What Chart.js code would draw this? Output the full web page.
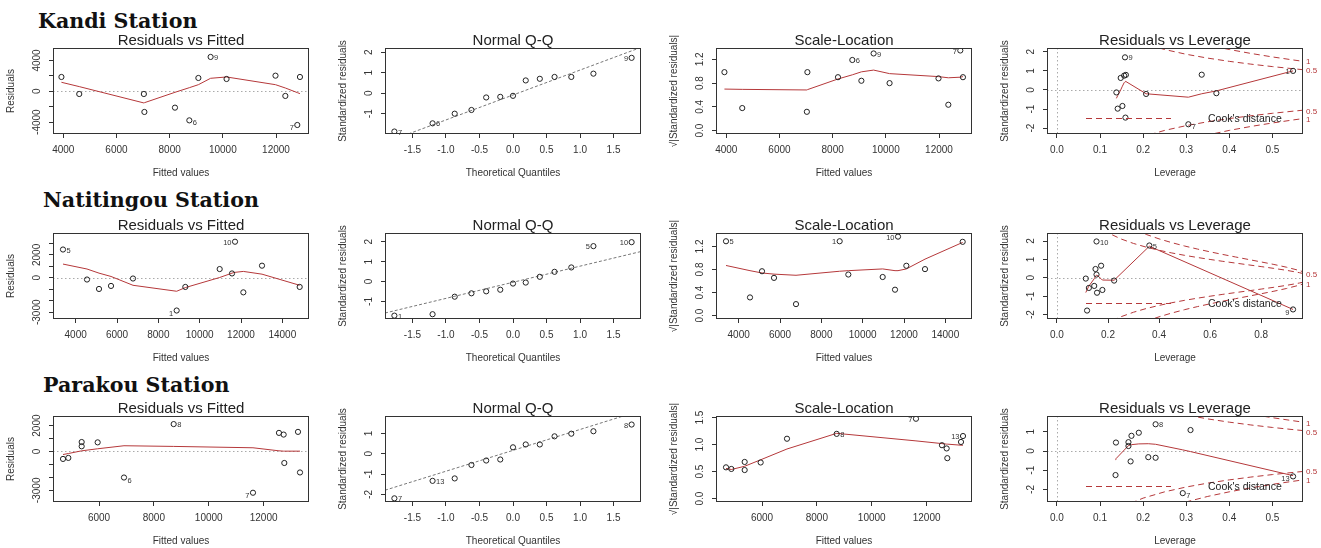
<!DOCTYPE html>
<html>
<head>
<meta charset="utf-8">
<script src="https://cdn.jsdelivr.net/npm/chart.js@4.4.1/dist/chart.umd.min.js"></script>
<style>
html, body { margin: 0; padding: 0; background: #fff; }
body { width: 1321px; height: 548px; position: relative; overflow: hidden; }
.st { position: absolute; font-family: "DejaVu Serif", serif; font-weight: bold; font-size: 20.6px; line-height: 20px; color: #111; white-space: nowrap; }
canvas { position: absolute; }
</style>
</head>
<body>
<div class="st" style="left:38px;top:11px">Kandi Station</div>
<div class="st" style="left:43px;top:190px">Natitingou Station</div>
<div class="st" style="left:43px;top:375px">Parakou Station</div>
<script>
// theoretical quantiles (n = 13), shared by the three Q-Q plots
const theoQ = [-1.77, -1.2, -0.87, -0.62, -0.4, -0.19, 0, 0.19, 0.4, 0.62, 0.87, 1.2, 1.77];

// Kandi
const kandiFitted = [3930, 4600, 7030, 7050, 8200, 8740, 9080, 9540, 10140, 11980, 12350, 12800, 12900];
const kandiResid = [1860, -350, -350, -2680, -2120, -3770, 1730, 4460, 1600, 2030, -600, -4370, 1860];
const kandiSmooth = [1170, 610, -1510, -1480, -130, 470, 860, 1690, 1860, 860, 430, -170, -300];
const kandiQQ = [-1.87, -1.47, -1.0, -0.82, -0.21, -0.18, -0.13, 0.62, 0.70, 0.79, 0.79, 0.95, 1.72];
const kandiQQline = [-2.41, 2.23];
const kandiSqrt = [0.985, 0.38, 0.317, 0.985, 0.90, 1.19, 0.84, 1.30, 0.80, 0.88, 0.436, 1.35, 0.90];
const kandiSmoothSL = [0.70, 0.695, 0.685, 0.69, 0.87, 0.94, 0.99, 1.02, 0.96, 0.91, 0.89, 0.90, 0.91];
const kandiLev = [0.138, 0.141, 0.148, 0.152, 0.156, 0.160, 0.158, 0.159, 0.207, 0.305, 0.336, 0.370, 0.548];
const kandiStd = [-0.13, -0.98, 0.63, -0.84, 0.75, 0.79, 1.71, -1.45, -0.21, -1.80, 0.80, -0.17, 1.00];
const kandiLevS = [0.138, 0.141, 0.148, 0.152, 0.156, 0.158, 0.159, 0.160, 0.207, 0.305, 0.336, 0.370, 0.548];
const kandiLevSm = [-0.44, -0.30, 0.00, 0.20, 0.38, 0.43, 0.45, 0.45, -0.20, -0.38, -0.20, -0.05, 1.00];

// Natitingou
const natiFitted = [3387, 4548, 5129, 5710, 6774, 8887, 9306, 10968, 11565, 11710, 12113, 13016, 14839];
const natiResid = [2470, -147, -970, -706, -59, -2850, -794, 765, 382, 3150, -1265, 1060, -794];
const natiSmooth = [1200, 770, 410, 120, -650, -1170, -850, 30, 410, 480, 560, 320, -650];
const natiQQ = [-1.71, -1.64, -0.76, -0.59, -0.49, -0.41, -0.10, -0.05, 0.24, 0.49, 0.71, 1.78, 1.98];
const natiQQline = [-1.58, 1.51];
const natiSqrt = [1.29, 0.316, 0.77, 0.655, 0.20, 1.29, 0.713, 0.67, 0.45, 1.37, 0.865, 0.807, 1.28];
const natiSmoothSL = [0.87, 0.78, 0.74, 0.72, 0.70, 0.77, 0.78, 0.81, 0.78, 0.78, 0.81, 0.98, 1.27];
const natiLev = [0.113, 0.118, 0.125, 0.146, 0.151, 0.155, 0.157, 0.173, 0.178, 0.155, 0.224, 0.362, 0.925];
const natiStd = [-0.04, -1.78, -0.55, -0.44, 0.48, 0.18, -0.81, 0.66, -0.66, 1.98, -0.15, 1.76, -1.72];
const natiLevS = [0.113, 0.118, 0.125, 0.146, 0.151, 0.155, 0.155, 0.157, 0.173, 0.178, 0.224, 0.362, 0.925];
const natiLevSm = [-0.80, -0.65, -0.45, -0.05, 0.08, 0.15, 0.15, 0.14, -0.05, -0.12, -0.13, 1.72, -1.72];

// Parakou
const parFitted = [4688, 4882, 5368, 5368, 5951, 6911, 8722, 11613, 12560, 12731, 12755, 13254, 13327];
const parResid = [-574, -496, 730, 400, 705, -2010, 2115, -3185, 1436, 1305, -888, 1514, -1619];
const parSmooth = [-235, -157, 52, 52, 209, 444, 392, 287, 52, 26, 26, 26, 26];
const parQQ = [-2.19, -1.33, -1.21, -0.55, -0.33, -0.28, 0.32, 0.46, 0.46, 0.86, 0.99, 1.11, 1.44];
const parQQline = [-1.79, 2.13];
const parSqrt = [0.58, 0.55, 0.68, 0.53, 0.67, 1.11, 1.20, 1.48, 0.99, 0.93, 0.75, 1.05, 1.16];
const parSmoothSL = [0.56, 0.54, 0.60, 0.60, 0.72, 0.92, 1.21, 1.07, 1.02, 1.01, 1.01, 0.99, 0.99];
const parLev = [0.137, 0.136, 0.166, 0.166, 0.173, 0.171, 0.190, 0.212, 0.229, 0.229, 0.292, 0.310, 0.548];
const parStd = [0.44, -1.25, 0.46, 0.26, 0.79, -0.54, 0.95, -0.32, 1.39, -0.35, -2.19, 1.09, -1.32];
const parLevS = [0.136, 0.137, 0.166, 0.166, 0.171, 0.173, 0.190, 0.212, 0.229, 0.229, 0.292, 0.310, 0.548];
const parLevSm = [-0.45, -0.40, 0.28, 0.28, 0.32, 0.33, 0.37, 0.38, 0.35, 0.35, 0.06, -0.03, -1.28];

// Cook's distance contours (0.5 and 1) read along leverage
const cookH = [0.15, 0.2, 0.25, 0.3, 0.35, 0.4, 0.45, 0.5, 0.55, 0.6, 0.65, 0.7, 0.75, 0.8, 0.85, 0.9, 0.95, 0.97];
const cookHalf = [2.915, 2.449, 2.121, 1.871, 1.669, 1.5, 1.354, 1.225, 1.108, 1.0, 0.898, 0.802, 0.707, 0.612, 0.514, 0.408, 0.281, 0.215];
const cookOne = [4.123, 3.464, 3.0, 2.646, 2.36, 2.121, 1.915, 1.732, 1.567, 1.414, 1.271, 1.134, 1.0, 0.866, 0.728, 0.577, 0.397, 0.305];

// tick values
const fitTicksKandi = [4000, 6000, 8000, 10000, 12000];
const fitTicksNati = [4000, 6000, 8000, 10000, 12000, 14000];
const fitTicksPar = [6000, 8000, 10000, 12000];
const qqTicks = [-1.5, -1, -0.5, 0, 0.5, 1, 1.5];
const levTicks = [0, 0.1, 0.2, 0.3, 0.4, 0.5];
const levTicksNati = [0, 0.2, 0.4, 0.6, 0.8];
const resTicksKandi = [-4000, -2000, 0, 2000, 4000];
const resLabelsKandi = [-4000, 0, 4000];
const resTicksNati = [-3000, -2000, -1000, 0, 1000, 2000, 3000];
const resTicksPar = [-3000, -2000, -1000, 0, 1000, 2000];
const resLabels = [-3000, 0, 2000];
const stdTicksUp = [-1, 0, 1, 2];
const stdTicksDown = [-2, -1, 0, 1];
const stdTicksAll = [-2, -1, 0, 1, 2];
const slTicks = [0, 0.4, 0.8, 1.2];
const slTicksPar = [0, 0.5, 1, 1.5];

const FONT = '"Liberation Sans", Arial, sans-serif';
const RED = '#b5383a';
const COLS = [53, 385, 716, 1047];
const ROWS = [48, 233, 416];
const qqX = [-1.91, 1.91];

const pts = (xs, ys) => xs.map((x, i) => ({x: x, y: ys[i]}));
const neg = a => a.map(v => -v);
const int = v => String(v);
const one = v => v.toFixed(1);

function cookLines() {
    return [
        {x: cookH, y: cookHalf, color: RED, dash: [6, 4]},
        {x: cookH, y: cookOne, color: RED, dash: [6, 4]},
        {x: cookH, y: neg(cookHalf), color: RED, dash: [6, 4]},
        {x: cookH, y: neg(cookOne), color: RED, dash: [6, 4]}
    ];
}

const panels = [
    // Kandi
    {col: 0, row: 0, title: 'Residuals vs Fitted', xTitle: 'Fitted values', yTitle: 'Residuals',
     x: {min: 3613, max: 13240, ticks: fitTicksKandi, fmt: int},
     y: {min: -5540, max: 5620, ticks: resTicksKandi, labels: resLabelsKandi, fmt: int},
     px: kandiFitted, py: kandiResid, lines: [{x: kandiFitted, y: kandiSmooth, color: RED}], hline: true,
     ids: [[7, '9', 'r'], [5, '6', 'rb'], [11, '7', 'lb']]},
    {col: 1, row: 0, title: 'Normal Q-Q', xTitle: 'Theoretical Quantiles', yTitle: 'Standardized residuals',
     x: {min: -1.91, max: 1.91, ticks: qqTicks, fmt: one},
     y: {min: -1.99, max: 2.2, ticks: stdTicksUp, labels: stdTicksUp, fmt: int},
     px: theoQ, py: kandiQQ, lines: [{x: qqX, y: kandiQQline, color: '#777', dash: [3, 2]}],
     ids: [[0, '7', 'r'], [1, '6', 'r'], [12, '9', 'l']]},
    {col: 2, row: 0, title: 'Scale-Location', xTitle: 'Fitted values', yTitle: '\u221A|Standardized residuals|',
     x: {min: 3613, max: 13240, ticks: fitTicksKandi, fmt: int},
     y: {min: -0.057, max: 1.392, ticks: slTicks, labels: slTicks, fmt: one},
     px: kandiFitted, py: kandiSqrt, lines: [{x: kandiFitted, y: kandiSmoothSL, color: RED}],
     ids: [[5, '6', 'r'], [7, '9', 'r'], [11, '7', 'l']]},
    {col: 3, row: 0, title: 'Residuals vs Leverage', xTitle: 'Leverage', yTitle: 'Standardized residuals',
     x: {min: -0.023, max: 0.571, ticks: levTicks, fmt: one},
     y: {min: -2.31, max: 2.2, ticks: stdTicksAll, labels: stdTicksAll, fmt: int},
     px: kandiLev, py: kandiStd, lines: [{x: kandiLevS, y: kandiLevSm, color: RED}].concat(cookLines()), hline: true, vline: true,
     ids: [[6, '9', 'r'], [9, '7', 'rb'], [12, '1', 'l']], legend: true,
     cook: [[1.50, '1'], [1.01, '0.5'], [-1.15, '0.5'], [-1.56, '1']]},
    // Natitingou
    {col: 0, row: 1, title: 'Residuals vs Fitted', xTitle: 'Fitted values', yTitle: 'Residuals',
     x: {min: 2903, max: 15290, ticks: fitTicksNati, fmt: int},
     y: {min: -3590, max: 3910, ticks: resTicksNati, labels: resLabels, fmt: int},
     px: natiFitted, py: natiResid, lines: [{x: natiFitted, y: natiSmooth, color: RED}], hline: true,
     ids: [[0, '5', 'r'], [5, '1', 'lb'], [9, '10', 'l']]},
    {col: 1, row: 1, title: 'Normal Q-Q', xTitle: 'Theoretical Quantiles', yTitle: 'Standardized residuals',
     x: {min: -1.91, max: 1.91, ticks: qqTicks, fmt: one},
     y: {min: -1.88, max: 2.44, ticks: stdTicksUp, labels: stdTicksUp, fmt: int},
     px: theoQ, py: natiQQ, lines: [{x: qqX, y: natiQQline, color: '#777', dash: [3, 2]}],
     ids: [[0, '1', 'r'], [11, '5', 'l'], [12, '10', 'l']]},
    {col: 2, row: 1, title: 'Scale-Location', xTitle: 'Fitted values', yTitle: '\u221A|Standardized residuals|',
     x: {min: 2903, max: 15290, ticks: fitTicksNati, fmt: int},
     y: {min: -0.058, max: 1.433, ticks: slTicks, labels: slTicks, fmt: one},
     px: natiFitted, py: natiSqrt, lines: [{x: natiFitted, y: natiSmoothSL, color: RED}],
     ids: [[0, '5', 'r'], [5, '1', 'l'], [9, '10', 'l']]},
    {col: 3, row: 1, title: 'Residuals vs Leverage', xTitle: 'Leverage', yTitle: 'Standardized residuals',
     x: {min: -0.039, max: 0.964, ticks: levTicksNati, fmt: one},
     y: {min: -2.24, max: 2.44, ticks: stdTicksAll, labels: stdTicksAll, fmt: int},
     px: natiLev, py: natiStd, lines: [{x: natiLevS, y: natiLevSm, color: RED}].concat(cookLines()), hline: true, vline: true,
     ids: [[9, '10', 'r'], [11, '5', 'r'], [12, '9', 'lb']], legend: true,
     cook: [[0.15, '0.5'], [-0.40, '1']]},
    // Parakou
    {col: 0, row: 2, title: 'Residuals vs Fitted', xTitle: 'Fitted values', yTitle: 'Residuals',
     x: {min: 4323, max: 13655, ticks: fitTicksPar, fmt: int},
     y: {min: -3900, max: 2740, ticks: resTicksPar, labels: resLabels, fmt: int},
     px: parFitted, py: parResid, lines: [{x: parFitted, y: parSmooth, color: RED}], hline: true,
     ids: [[6, '8', 'r'], [5, '6', 'rb'], [7, '7', 'lb']]},
    {col: 1, row: 2, title: 'Normal Q-Q', xTitle: 'Theoretical Quantiles', yTitle: 'Standardized residuals',
     x: {min: -1.91, max: 1.91, ticks: qqTicks, fmt: one},
     y: {min: -2.37, max: 1.86, ticks: stdTicksDown, labels: stdTicksDown, fmt: int},
     px: theoQ, py: parQQ, lines: [{x: qqX, y: parQQline, color: '#777', dash: [3, 2]}],
     ids: [[0, '7', 'r'], [1, '13', 'r'], [12, '8', 'l']]},
    {col: 2, row: 2, title: 'Scale-Location', xTitle: 'Fitted values', yTitle: '\u221A|Standardized residuals|',
     x: {min: 4323, max: 13655, ticks: fitTicksPar, fmt: int},
     y: {min: -0.062, max: 1.531, ticks: slTicksPar, labels: slTicksPar, fmt: one},
     px: parFitted, py: parSqrt, lines: [{x: parFitted, y: parSmoothSL, color: RED}],
     ids: [[6, '8', 'r'], [7, '7', 'l'], [12, '13', 'l']]},
    {col: 3, row: 2, title: 'Residuals vs Leverage', xTitle: 'Leverage', yTitle: 'Standardized residuals',
     x: {min: -0.023, max: 0.571, ticks: levTicks, fmt: one},
     y: {min: -2.65, max: 1.82, ticks: stdTicksDown, labels: stdTicksDown, fmt: int},
     px: parLev, py: parStd, lines: [{x: parLevS, y: parLevSm, color: RED}].concat(cookLines()), hline: true, vline: true,
     ids: [[8, '8', 'r'], [10, '7', 'rb'], [12, '13', 'lb']], legend: true,
     cook: [[1.44, '1'], [0.96, '0.5'], [-1.07, '0.5'], [-1.54, '1']]}
];

function panelPlugin(p) {
    return {
        id: 'rpanel',
        beforeDatasetsDraw(chart) {
            const {ctx, chartArea: a, scales: {x, y}} = chart;
            ctx.save();
            ctx.strokeStyle = '#aaa';
            ctx.lineWidth = 1;
            ctx.setLineDash([1.5, 2.5]);
            if (p.hline) {
                const yy = Math.round(y.getPixelForValue(0)) + 0.5;
                ctx.beginPath(); ctx.moveTo(a.left, yy); ctx.lineTo(a.right, yy); ctx.stroke();
            }
            if (p.vline) {
                const xx = Math.round(x.getPixelForValue(0)) + 0.5;
                ctx.beginPath(); ctx.moveTo(xx, a.top); ctx.lineTo(xx, a.bottom); ctx.stroke();
            }
            ctx.restore();
        },
        afterDraw(chart) {
            const {ctx, chartArea: a, scales: {y}} = chart;
            ctx.save();
            // box round the plot
            ctx.strokeStyle = '#333';
            ctx.lineWidth = 1;
            ctx.strokeRect(Math.round(a.left) + 0.5, Math.round(a.top) + 0.5, Math.round(a.width) - 1, Math.round(a.height) - 1);
            // title
            ctx.fillStyle = '#222';
            ctx.font = '15px ' + FONT;
            ctx.textAlign = 'center';
            ctx.textBaseline = 'alphabetic';
            ctx.fillText(p.title, (a.left + a.right) / 2, a.top - 3);
            // y tick labels, parallel to the axis like R
            ctx.fillStyle = '#333';
            ctx.font = '10px ' + FONT;
            ctx.textBaseline = 'middle';
            p.y.labels.forEach(v => {
                ctx.save();
                ctx.translate(a.left - 16, y.getPixelForValue(v));
                ctx.rotate(-Math.PI / 2);
                ctx.fillText(p.y.fmt(v), 0, 0);
                ctx.restore();
            });
            // point ids
            ctx.font = '7.5px ' + FONT;
            const els = chart.getDatasetMeta(0).data;
            p.ids.forEach(([i, t, side]) => {
                const el = els[i];
                const left = side[0] === 'l';
                ctx.textAlign = left ? 'right' : 'left';
                ctx.fillText(t, el.x + (left ? -3.5 : 3.5), el.y + (side[1] === 'b' ? 3 : 1));
            });
            // Cook's distance contour labels
            if (p.cook) {
                ctx.fillStyle = RED;
                ctx.font = '8px ' + FONT;
                ctx.textAlign = 'left';
                p.cook.forEach(([v, t]) => ctx.fillText(t, a.right + 3, y.getPixelForValue(v)));
            }
            // legend
            if (p.legend) {
                const ly = Math.round(a.bottom - 16) + 0.5;
                ctx.strokeStyle = RED;
                ctx.setLineDash([6, 4]);
                ctx.beginPath(); ctx.moveTo(a.left + 39, ly); ctx.lineTo(a.left + 124, ly); ctx.stroke();
                ctx.setLineDash([]);
                ctx.fillStyle = '#222';
                ctx.font = '10.5px ' + FONT;
                ctx.textAlign = 'left';
                ctx.fillText("Cook's distance", a.left + 161, ly + 1);
            }
            ctx.restore();
        }
    };
}

function build(p) {
    const cv = document.createElement('canvas');
    cv.width = 324;
    cv.height = 147;
    cv.style.left = (COLS[p.col] - 48) + 'px';
    cv.style.top = (ROWS[p.row] - 16) + 'px';
    document.body.appendChild(cv);

    const datasets = [{
        data: pts(p.px, p.py),
        showLine: false,
        pointRadius: 2.6,
        pointBorderWidth: 1,
        pointBorderColor: '#222',
        pointBackgroundColor: 'rgba(0,0,0,0)'
    }];
    p.lines.forEach(l => datasets.push({
        data: pts(l.x, l.y),
        showLine: true,
        pointRadius: 0,
        borderColor: l.color,
        borderWidth: 1,
        borderDash: l.dash || [],
        tension: 0,
        fill: false
    }));

    const tickFont = {family: FONT, size: 10};
    new Chart(cv, {
        type: 'scatter',
        data: {datasets: datasets},
        options: {
            responsive: false,
            animation: false,
            devicePixelRatio: 1,
            layout: {padding: {top: 16, right: 20, left: 0, bottom: 0}},
            plugins: {legend: {display: false}, tooltip: {enabled: false}},
            scales: {
                x: {
                    type: 'linear', min: p.x.min, max: p.x.max,
                    afterBuildTicks: s => { s.ticks = p.x.ticks.map(v => ({value: v})); },
                    afterFit: s => { s.height = 45; },
                    border: {display: false},
                    grid: {drawOnChartArea: false, tickLength: 4, color: '#333'},
                    ticks: {autoSkip: false, maxRotation: 0, padding: 6, color: '#333', font: tickFont,
                            callback: v => p.x.fmt(v)},
                    title: {display: true, text: p.xTitle, color: '#333', font: tickFont, padding: 0}
                },
                y: {
                    type: 'linear', min: p.y.min, max: p.y.max,
                    afterBuildTicks: s => { s.ticks = p.y.ticks.map(v => ({value: v})); },
                    afterFit: s => { s.width = 48; },
                    border: {display: false},
                    grid: {drawOnChartArea: false, tickLength: 4, color: '#333'},
                    ticks: {display: false},
                    title: {display: true, text: p.yTitle, color: '#333', font: tickFont, padding: 0}
                }
            }
        },
        plugins: [panelPlugin(p)]
    });
}

panels.forEach(build);
</script>
</body>
</html>
